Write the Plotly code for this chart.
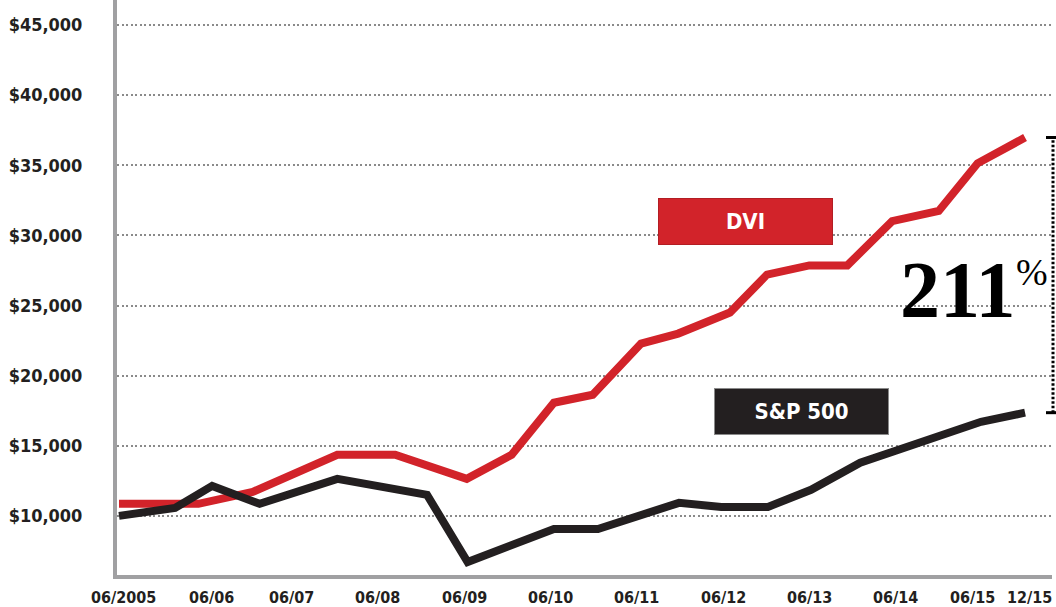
import plotly.graph_objects as go

# ---- data ----
dvi_years = [2005.5, 2006.42, 2007.05, 2008.03, 2008.70, 2009.53, 2010.05, 2010.54,
             2010.99, 2011.55, 2011.98, 2012.58, 2013.01, 2013.50, 2013.94, 2014.46,
             2015.0, 2015.45, 2016.0]
dvi_values = [10860, 10860, 11710, 14360, 14360, 12640, 14360, 18070,
              18640, 22290, 23000, 24500, 27210, 27860, 27860, 31020,
              31740, 35140, 36980]

sp_years = [2005.5, 2006.15, 2006.58, 2007.13, 2008.03, 2009.07, 2009.54, 2010.54,
            2011.05, 2011.99, 2012.48, 2013.02, 2013.52, 2014.09, 2014.50, 2015.49,
            2016.0]
sp_values = [10000, 10570, 12140, 10860, 12640, 11500, 6710, 9070,
             9070, 10930, 10640, 10640, 11860, 13790, 14640, 16710,
             17360]

x_tick_vals = [2005.5, 2006.5, 2007.5, 2008.5, 2009.5, 2010.5, 2011.5, 2012.5,
               2013.5, 2014.5, 2015.5, 2016.0]
x_tick_text = ["06/2005", "06/06", "06/07", "06/08", "06/09", "06/10", "06/11",
               "06/12", "06/13", "06/14", "06/15", "12/15"]
y_tick_vals = [10000, 15000, 20000, 25000, 30000, 35000, 40000, 45000]
y_tick_text = ["$10,000", "$15,000", "$20,000", "$25,000", "$30,000",
               "$35,000", "$40,000", "$45,000"]

series_labels = ["DVI", "S&P 500"]
gain_text = "211"

RED = "#d2232a"
BLACK = "#231f20"
LABEL_FONT = "DejaVu Sans Condensed"

fig = go.Figure()
fig.add_trace(go.Scatter(x=dvi_years, y=dvi_values, mode="lines",
                         line=dict(color=RED, width=8), name=series_labels[0],
                         hoverinfo="skip"))
fig.add_trace(go.Scatter(x=sp_years, y=sp_values, mode="lines",
                         line=dict(color=BLACK, width=8), name=series_labels[1],
                         hoverinfo="skip"))

# x-axis date labels, placed at the tick values with small typographic nudges
label_nudge = {0: 4, 1: 6, 10: -9, 11: 4}
for i, (tv, tt) in enumerate(zip(x_tick_vals, x_tick_text)):
    fig.add_annotation(x=tv, y=0, xref="x", yref="paper", text=tt,
                       showarrow=False, xanchor="center", yanchor="top",
                       xshift=label_nudge.get(i, 0), yshift=-11,
                       font=dict(family=LABEL_FONT, size=16, color=BLACK, weight="bold"))

# label boxes
fig.add_annotation(x=2012.76, y=31000, xref="x", yref="y", text="<b>" + series_labels[0] + "</b>",
                   showarrow=False, width=173, height=45, bgcolor=RED,
                   bordercolor="#b31d23", borderwidth=1, borderpad=0,
                   font=dict(family=LABEL_FONT, size=22, color="white"))
fig.add_annotation(x=2013.41, y=17430, xref="x", yref="y", text="<b>S&amp;P 500</b>",
                   showarrow=False, width=173, height=45, bgcolor=BLACK,
                   bordercolor="#8a8a8a", borderwidth=1, borderpad=0,
                   font=dict(family=LABEL_FONT, size=22, color="white"))

# 211% callout
fig.add_annotation(x=2015.22, y=26140, xref="x", yref="y", text="<b>" + gain_text + "</b>",
                   showarrow=False, xanchor="center", yanchor="middle", borderpad=0,
                   font=dict(family="Liberation Serif", size=80, color="black"))
fig.add_annotation(x=2016.08, y=27360, xref="x", yref="y", text="%",
                   showarrow=False, xanchor="center", yanchor="middle", borderpad=0,
                   font=dict(family="Liberation Serif", size=38, color="black"))

# bracket spanning the final values
px0 = 117
pw = 935
def paper_x(px):
    return (px - px0) / pw

top_v = dvi_values[-1]
bot_v = sp_values[-1]
fig.add_shape(type="line", xref="paper", yref="y", x0=paper_x(1053), x1=paper_x(1053),
              y0=bot_v, y1=top_v, line=dict(color="black", width=3, dash="2.5px,2px"))
fig.add_shape(type="line", xref="paper", yref="y", x0=paper_x(1046), x1=paper_x(1057),
              y0=top_v, y1=top_v, line=dict(color="black", width=3))
fig.add_shape(type="line", xref="paper", yref="y", x0=paper_x(1046), x1=paper_x(1057),
              y0=bot_v, y1=bot_v, line=dict(color="black", width=3))

fig.update_layout(
    width=1056, height=607,
    margin=dict(l=117, r=4, t=0, b=32, autoexpand=False),
    paper_bgcolor="white", plot_bgcolor="white",
    showlegend=False,
)
fig.update_xaxes(
    range=[2005.4768, 2016.3124], showgrid=False, zeroline=False,
    showline=True, linecolor="#a0a0a2", linewidth=4,
    tickmode="array", tickvals=x_tick_vals, ticktext=[""] * len(x_tick_vals),
    ticks="", automargin=False,
)
fig.update_yaxes(
    range=[5786, 46786], showgrid=True, gridcolor="#8a8a8a", gridwidth=2,
    griddash="2px,2.5px", zeroline=False,
    showline=True, linecolor="#a0a0a2", linewidth=4,
    tickmode="array", tickvals=y_tick_vals, ticktext=y_tick_text,
    ticks="", ticklabelstandoff=27, automargin=False,
    tickfont=dict(family=LABEL_FONT, size=18, color=BLACK, weight="bold"),
)

fig.write_html("out.html", config={"displayModeBar": False},
               post_script="document.body.style.margin='0';document.body.style.overflow='hidden';")
